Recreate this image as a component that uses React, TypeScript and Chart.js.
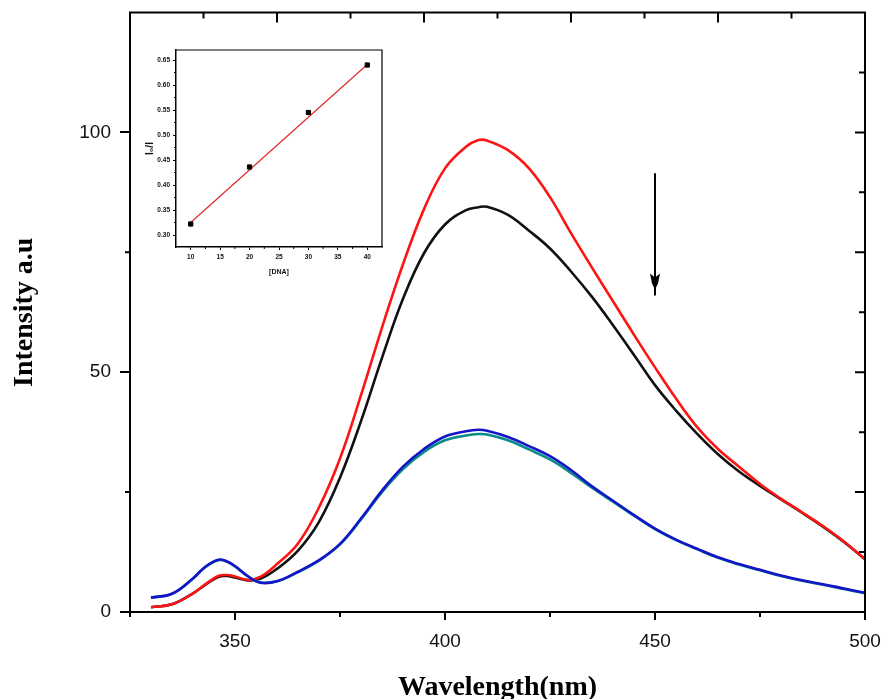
import { useEffect, useRef } from 'react';
import { Chart, registerables } from 'chart.js';

Chart.register(...registerables);

// ---------- main spectrum data ----------
const wavelengths = [330, 335, 340, 343, 346, 348, 350, 353, 356, 360, 365, 370, 375, 380, 385, 390, 395, 400, 405, 408, 410, 415, 420, 425, 430, 435, 440, 445, 450, 455, 460, 465, 470, 475, 480, 485, 490, 495, 500];
const redIntensity = [1.0, 1.6, 3.9, 5.8, 7.5, 7.7, 7.4, 6.7, 7.3, 10.0, 14.3, 21.8, 32.0, 45.2, 59.3, 72.5, 84.0, 92.5, 97.0, 98.4, 98.3, 96.3, 92.5, 86.5, 79.0, 71.8, 64.8, 57.8, 51.0, 44.5, 38.6, 34.0, 30.3, 26.7, 23.6, 20.8, 17.9, 14.7, 11.0];
const blackIntensity = [1.0, 1.6, 3.9, 5.7, 7.3, 7.5, 7.2, 6.6, 6.9, 9.0, 12.8, 18.8, 28.0, 39.8, 53.0, 65.3, 74.8, 80.8, 83.8, 84.4, 84.5, 82.8, 79.5, 75.8, 71.0, 65.7, 59.8, 53.6, 47.3, 42.0, 37.2, 32.9, 29.3, 26.3, 23.5, 20.7, 17.8, 14.6, 11.0];
const blueIntensity = [3.0, 3.8, 7.0, 9.5, 10.9, 10.6, 9.6, 7.5, 6.1, 6.4, 8.4, 10.8, 14.2, 19.5, 25.3, 30.3, 34.0, 36.6, 37.7, 38.0, 37.8, 36.5, 34.6, 32.5, 29.6, 26.2, 23.2, 20.2, 17.4, 15.1, 13.2, 11.4, 10.0, 8.8, 7.6, 6.6, 5.8, 4.9, 4.0];
const tealIntensity = [3.0, 3.8, 7.0, 9.4, 10.8, 10.5, 9.5, 7.5, 6.2, 6.4, 8.3, 10.7, 14.1, 19.3, 25.0, 29.8, 33.4, 35.8, 36.8, 37.1, 37.0, 35.8, 33.9, 31.8, 29.0, 25.9, 23.0, 20.1, 17.3, 15.0, 13.1, 11.3, 9.9, 8.7, 7.5, 6.5, 5.7, 4.8, 3.9];

const xRange = [325, 500];
const yRange = [0, 125];
const xMajorTicks = [350, 400, 450, 500];
const xMinorTicks = [325, 375, 425, 475];
const yMajorTicks = [0, 50, 100];
const yMinorTicks = [25, 75];
const rightMajorTicks = [25, 50, 75, 100];
const rightMinorTicks = [12.5, 37.5, 62.5, 87.5, 112.5];
const topMajorTicks = [360, 395, 430, 465];
const topMinorTicks = [342.5, 377.5, 412.5, 447.5, 482.5];

const arrowX = 450;
const arrowStart = 91.5;
const arrowTip = 66;

// ---------- inset data ----------
const dnaConc = [10, 20, 30, 40];
const ratioValues = [0.322, 0.436, 0.545, 0.64];
const fitX = [10, 40];
const fitY = [0.325, 0.641];
const insetXRange = [7.5, 42.5];
const insetYRange = [0.276, 0.67];
const insetXTicks = [10, 15, 20, 25, 30, 35, 40];
const insetXMinor = [12.5, 17.5, 22.5, 27.5, 32.5, 37.5];
const insetYTicks = [0.3, 0.35, 0.4, 0.45, 0.5, 0.55, 0.6, 0.65];
const insetYMinor = [0.325, 0.375, 0.425, 0.475, 0.525, 0.575, 0.625];

const SANS = 'Arial, "Liberation Sans", sans-serif';
const SERIF = '"Times New Roman", "Liberation Serif", serif';

const mainFrame = {
  id: 'mainFrame',
  afterDraw(chart: any) {
    const { ctx, chartArea, scales } = chart;
    const { left, right, top, bottom } = chartArea;
    const x = scales.x;
    const y = scales.y;
    ctx.save();
    ctx.strokeStyle = '#000';
    ctx.lineWidth = 2;
    ctx.beginPath();
    ctx.moveTo(left - 1, top);
    ctx.lineTo(right + 1, top);
    ctx.moveTo(right, top);
    ctx.lineTo(right, bottom + 1);
    ctx.stroke();
    ctx.beginPath();
    xMinorTicks.forEach((v) => {
      const px = x.getPixelForValue(v);
      ctx.moveTo(px, bottom);
      ctx.lineTo(px, bottom + 5);
    });
    yMinorTicks.forEach((v) => {
      const py = y.getPixelForValue(v);
      ctx.moveTo(left, py);
      ctx.lineTo(left - 5, py);
    });
    rightMajorTicks.forEach((v) => {
      const py = y.getPixelForValue(v);
      ctx.moveTo(right, py);
      ctx.lineTo(right - 10, py);
    });
    rightMinorTicks.forEach((v) => {
      const py = y.getPixelForValue(v);
      ctx.moveTo(right, py);
      ctx.lineTo(right - 6, py);
    });
    topMajorTicks.forEach((v) => {
      const px = x.getPixelForValue(v);
      ctx.moveTo(px, top);
      ctx.lineTo(px, top + 10);
    });
    topMinorTicks.forEach((v) => {
      const px = x.getPixelForValue(v);
      ctx.moveTo(px, top);
      ctx.lineTo(px, top + 6);
    });
    ctx.stroke();
    // arrow
    const ax = x.getPixelForValue(arrowX);
    const ay0 = y.getPixelForValue(arrowStart);
    const ay1 = y.getPixelForValue(arrowTip);
    ctx.lineWidth = 2;
    ctx.beginPath();
    ctx.moveTo(ax, ay0);
    ctx.lineTo(ax, ay1);
    ctx.stroke();
    ctx.fillStyle = '#000';
    ctx.beginPath();
    ctx.moveTo(ax - 5, ay1 - 22);
    ctx.lineTo(ax, ay1 - 18);
    ctx.lineTo(ax + 5, ay1 - 22);
    ctx.lineTo(ax + 3, ay1 - 12);
    ctx.lineTo(ax, ay1 - 6);
    ctx.lineTo(ax - 3, ay1 - 12);
    ctx.closePath();
    ctx.fill();
    ctx.restore();
  },
};

const insetFrame = {
  id: 'insetFrame',
  afterDraw(chart: any) {
    const { ctx, chartArea, scales } = chart;
    const { left, right, top, bottom } = chartArea;
    const x = scales.x;
    const y = scales.y;
    ctx.save();
    ctx.strokeStyle = '#000';
    ctx.lineWidth = 1.2;
    ctx.beginPath();
    ctx.moveTo(left, top);
    ctx.lineTo(right, top);
    ctx.lineTo(right, bottom);
    ctx.stroke();
    ctx.lineWidth = 1;
    ctx.beginPath();
    insetXMinor.forEach((v) => {
      const px = x.getPixelForValue(v);
      ctx.moveTo(px, bottom);
      ctx.lineTo(px, bottom + 2);
    });
    insetYMinor.forEach((v) => {
      const py = y.getPixelForValue(v);
      ctx.moveTo(left, py);
      ctx.lineTo(left - 2, py);
    });
    ctx.stroke();
    ctx.restore();
  },
};

export default function App() {
  const mainRef = useRef<HTMLCanvasElement>(null);
  const insetRef = useRef<HTMLCanvasElement>(null);

  useEffect(() => {
    const mk = (vals: number[]) => wavelengths.map((w, i) => ({ x: w, y: vals[i] }));
    const lineDs = (label: string, vals: number[], color: string) => ({
      label,
      data: mk(vals),
      borderColor: color,
      backgroundColor: color,
      borderWidth: 2.6,
      pointRadius: 0,
      fill: false,
      tension: 0.4,
    });
    const zeroPad = (s: any) => {
      s.paddingLeft = 0;
      s.paddingRight = 0;
      s.paddingTop = 0;
      s.paddingBottom = 0;
    };
    const main = new Chart(mainRef.current!, {
      type: 'line',
      data: {
        datasets: [
          lineDs('blue', blueIntensity, '#1414c8'),
          lineDs('teal', tealIntensity, '#0a8a8a'),
          lineDs('red', redIntensity, '#ff1414'),
          lineDs('black', blackIntensity, '#111111'),
        ],
      },
      options: {
        animation: false,
        responsive: false,
        devicePixelRatio: 1,
        layout: { padding: { left: 0, right: 20, top: 12.5, bottom: 0 } },
        plugins: { legend: { display: false }, tooltip: { enabled: false } },
        scales: {
          x: {
            type: 'linear',
            min: xRange[0],
            max: xRange[1],
            afterBuildTicks: (s: any) => {
              s.ticks = xMajorTicks.map((v) => ({ value: v }));
            },
            afterFit: (s: any) => {
              s.height = 87;
              zeroPad(s);
            },
            ticks: { color: '#111', font: { family: SANS, size: 19 }, padding: 10, maxRotation: 0 },
            grid: { display: true, drawOnChartArea: false, drawTicks: true, tickLength: 8, color: '#000', lineWidth: 2 },
            border: { display: true, color: '#000', width: 2 },
            title: {
              display: true,
              text: 'Wavelength(nm)',
              color: '#000',
              font: { family: SERIF, size: 28, weight: 'bold', lineHeight: 1 },
              padding: { top: 0, bottom: -3 },
            },
          },
          y: {
            type: 'linear',
            min: yRange[0],
            max: yRange[1],
            afterBuildTicks: (s: any) => {
              s.ticks = yMajorTicks.map((v) => ({ value: v }));
            },
            afterFit: (s: any) => {
              s.width = 130;
              zeroPad(s);
            },
            ticks: { color: '#111', font: { family: SANS, size: 19 }, padding: 9 },
            grid: { display: true, drawOnChartArea: false, drawTicks: true, tickLength: 10, color: '#000', lineWidth: 2 },
            border: { display: true, color: '#000', width: 2 },
            title: {
              display: true,
              text: 'Intensity a.u',
              color: '#000',
              font: { family: SERIF, size: 28, weight: 'bold', lineHeight: 1 },
              padding: { top: 11, bottom: 0 },
            },
          },
        },
      },
      plugins: [mainFrame],
    });

    const inset = new Chart(insetRef.current!, {
      type: 'scatter',
      data: {
        datasets: [
          {
            label: 'points',
            data: dnaConc.map((c, i) => ({ x: c, y: ratioValues[i] })),
            pointStyle: 'rect',
            pointRadius: 3,
            backgroundColor: '#000',
            borderColor: '#000',
            showLine: false,
          },
          {
            label: 'fit',
            data: fitX.map((c, i) => ({ x: c, y: fitY[i] })),
            showLine: true,
            borderColor: '#e02a2a',
            borderWidth: 1.2,
            pointRadius: 0,
          },
        ],
      },
      options: {
        animation: false,
        responsive: false,
        devicePixelRatio: 1,
        layout: { padding: { left: 0, right: 8, top: 10, bottom: 0 } },
        plugins: { legend: { display: false }, tooltip: { enabled: false } },
        scales: {
          x: {
            type: 'linear',
            min: insetXRange[0],
            max: insetXRange[1],
            afterBuildTicks: (s: any) => {
              s.ticks = insetXTicks.map((v) => ({ value: v }));
            },
            afterFit: (s: any) => {
              s.height = 38;
              zeroPad(s);
            },
            ticks: { color: '#111', font: { family: SANS, size: 6.5, weight: 'bold' }, padding: 3, maxRotation: 0 },
            grid: { display: true, drawOnChartArea: false, drawTicks: true, tickLength: 3, color: '#000', lineWidth: 1 },
            border: { display: true, color: '#000', width: 1.5 },
            title: {
              display: true,
              text: '[DNA]',
              color: '#111',
              font: { family: SANS, size: 7, weight: 'bold', lineHeight: 1 },
              padding: { top: 0, bottom: 9 },
            },
          },
          y: {
            type: 'linear',
            min: insetYRange[0],
            max: insetYRange[1],
            afterBuildTicks: (s: any) => {
              s.ticks = insetYTicks.map((v) => ({ value: v }));
            },
            afterFit: (s: any) => {
              s.width = 41;
              zeroPad(s);
            },
            ticks: {
              color: '#111',
              font: { family: SANS, size: 6.5, weight: 'bold' },
              padding: 3,
              callback: (v: any) => Number(v).toFixed(2),
            },
            grid: { display: true, drawOnChartArea: false, drawTicks: true, tickLength: 3, color: '#000', lineWidth: 1 },
            border: { display: true, color: '#000', width: 1.5 },
            title: {
              display: true,
              text: 'I\u2080/I',
              color: '#111',
              font: { family: SANS, size: 10, weight: 'bold', lineHeight: 1 },
              padding: { top: 10, bottom: 0 },
            },
          },
        },
      },
      plugins: [insetFrame],
    });

    return () => {
      main.destroy();
      inset.destroy();
    };
  }, []);

  return (
    <div style={{ position: 'fixed', left: 0, top: 0, width: 885, height: 699, background: '#fff' }}>
      <canvas ref={mainRef} width={885} height={699} style={{ position: 'absolute', left: 0, top: 0, width: 885, height: 699 }} />
      <canvas ref={insetRef} width={255} height={245} style={{ position: 'absolute', left: 135, top: 40, width: 255, height: 245 }} />
    </div>
  );
}
